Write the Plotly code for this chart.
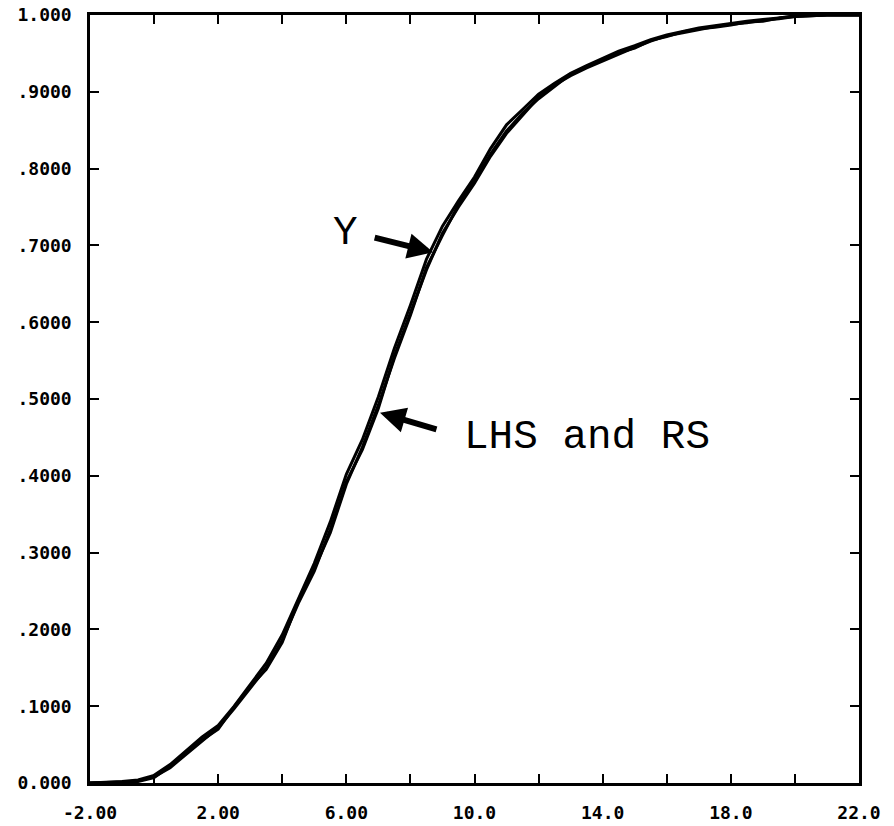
import plotly.graph_objects as go

# ---- data ----
x_vals = [-2.0, -1.0, -0.5, 0.0, 0.5, 1.0, 1.5, 2.0, 2.5, 3.0, 3.5, 4.0, 4.5, 5.0, 5.5,
          6.0, 6.5, 7.0, 7.5, 8.0, 8.5, 9.0, 9.5, 10.0, 10.5, 11.0, 11.5, 12.0, 12.5,
          13.0, 13.5, 14.0, 14.5, 15.0, 15.5, 16.0, 16.5, 17.0, 17.5, 18.0, 18.5,
          19.0, 19.5, 20.0, 21.0, 22.0]

lhs = [0.000, 0.001, 0.003, 0.008, 0.020, 0.037, 0.054, 0.072, 0.097, 0.123, 0.150,
       0.186, 0.234, 0.276, 0.330, 0.392, 0.434, 0.488, 0.556, 0.612, 0.668, 0.716,
       0.750, 0.781, 0.816, 0.846, 0.869, 0.893, 0.909, 0.921, 0.931, 0.940, 0.950,
       0.958, 0.966, 0.973, 0.977, 0.981, 0.985, 0.988, 0.990, 0.993, 0.995, 0.998,
       1.000, 1.000]

rs = [0.000, 0.001, 0.002, 0.007, 0.022, 0.039, 0.056, 0.070, 0.099, 0.126, 0.148,
      0.183, 0.237, 0.279, 0.326, 0.389, 0.437, 0.492, 0.553, 0.609, 0.671, 0.713,
      0.753, 0.784, 0.819, 0.849, 0.872, 0.891, 0.907, 0.923, 0.933, 0.942, 0.951,
      0.957, 0.967, 0.972, 0.978, 0.982, 0.984, 0.987, 0.991, 0.992, 0.996, 0.998,
      1.000, 1.000]

y_series = [0.000, 0.002, 0.004, 0.010, 0.024, 0.042, 0.060, 0.075, 0.100, 0.128, 0.156,
            0.193, 0.240, 0.286, 0.340, 0.402, 0.447, 0.503, 0.566, 0.622, 0.682, 0.725,
            0.758, 0.789, 0.826, 0.857, 0.877, 0.897, 0.911, 0.924, 0.934, 0.943, 0.953,
            0.960, 0.968, 0.974, 0.979, 0.983, 0.986, 0.989, 0.992, 0.994, 0.996, 0.999,
            1.000, 1.000]

x_tickvals = [-2, 0, 2, 4, 6, 8, 10, 12, 14, 16, 18, 20, 22]
x_ticktext = ["-2.00", "", "2.00", "", "6.00", "", "10.0", "", "14.0", "", "18.0", "", "22.0"]
y_tickvals = [0.0, 0.1, 0.2, 0.3, 0.4, 0.5, 0.6, 0.7, 0.8, 0.9, 1.0]
y_ticktext = ["0.000", ".1000", ".2000", ".3000", ".4000", ".5000", ".6000",
              ".7000", ".8000", ".9000", "1.000"]

fig = go.Figure()
for name, ys in [("LHS", lhs), ("RS", rs), ("Y", y_series)]:
    fig.add_trace(go.Scatter(x=x_vals, y=ys, mode="lines", name=name,
                             line=dict(color="black", width=3)))

tick_font = dict(family="DejaVu Sans Mono", size=18, color="black", weight="bold")
label_font = dict(family="Liberation Mono", size=41, color="black")

fig.update_layout(
    width=894, height=826,
    margin=dict(l=90, r=35, t=15, b=43),
    paper_bgcolor="white", plot_bgcolor="white",
    showlegend=False,
    xaxis=dict(range=[-2, 22], tickvals=x_tickvals, ticktext=x_ticktext,
               ticks="inside", ticklen=9, tickwidth=2, tickcolor="black",
               showline=True, linewidth=2.5, linecolor="black", mirror="ticks",
               showgrid=False, zeroline=False, tickfont=tick_font,
               ticklabelstandoff=12, automargin=False, ticklabeloverflow="allow"),
    yaxis=dict(range=[0, 1], tickvals=y_tickvals, ticktext=y_ticktext,
               ticks="inside", ticklen=9, tickwidth=2, tickcolor="black",
               showline=True, linewidth=2.5, linecolor="black", mirror="ticks",
               showgrid=False, zeroline=False, tickfont=tick_font,
               ticklabelstandoff=12, automargin=False, ticklabeloverflow="allow"),
)

# arrows
fig.add_annotation(x=8.71, y=0.691, xref="x", yref="y", text="", showarrow=True,
                   ax=-60, ay=-15, arrowhead=2, arrowwidth=6, arrowsize=0.85,
                   arrowcolor="black")
fig.add_annotation(x=7.05, y=0.482, xref="x", yref="y", text="", showarrow=True,
                   ax=58, ay=17, arrowhead=2, arrowwidth=6, arrowsize=0.85,
                   arrowcolor="black")
# labels
fig.add_annotation(x=5.96, y=0.716, xref="x", yref="y", text="Y", showarrow=False,
                   font=label_font, xanchor="center", yanchor="middle")
fig.add_annotation(x=9.61, y=0.45, xref="x", yref="y", text="LHS and RS", showarrow=False,
                   font=label_font, xanchor="left", yanchor="middle")

fig.write_html("out.html", config={"displayModeBar": False},
               post_script="document.body.style.margin='0';document.body.style.padding='0';")
